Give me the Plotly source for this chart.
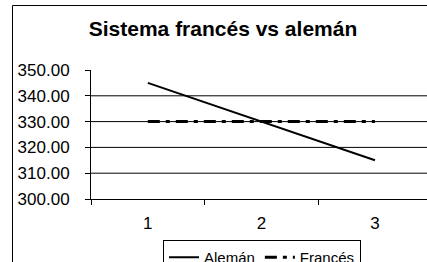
import plotly.graph_objects as go

categories = ["1", "2", "3"]
aleman = [345, 330, 315]
frances = [330, 330, 330]
y_ticks = [300, 310, 320, 330, 340, 350]
grid_vals = [310, 320, 330, 340]

W, H = 427, 262
L, R, T, B = 91, 0, 70, 63
pw, ph = W - L - R, H - T - B

def px_x(p):
    return (p - L) / pw

def px_y(p):
    return (H - B - p) / ph

fig = go.Figure()
fig.add_trace(go.Scatter(x=categories, y=aleman, mode="lines", name="Alemán",
                         line=dict(color="black", width=2)))
fig.add_trace(go.Scatter(x=categories, y=frances, mode="lines", name="Francés",
                         line=dict(color="black", width=3, dash="12px,6px,4px,6px")))

shapes = []
for g in grid_vals:
    shapes.append(dict(type="line", xref="paper", yref="y", x0=0, x1=1, y0=g, y1=g,
                       line=dict(color="black", width=1), layer="below"))
# outer chart frame (left and top edges visible in the crop)
shapes.append(dict(type="line", xref="paper", yref="paper",
                   x0=px_x(12.5), x1=px_x(12.5), y0=px_y(262), y1=px_y(5.5),
                   line=dict(color="black", width=1), layer="below"))
shapes.append(dict(type="line", xref="paper", yref="paper",
                   x0=px_x(12.5), x1=px_x(427), y0=px_y(5.5), y1=px_y(5.5),
                   line=dict(color="black", width=1), layer="below"))

fig.update_layout(
    width=W, height=H,
    margin=dict(l=L, r=R, t=T, b=B, autoexpand=False),
    paper_bgcolor="white", plot_bgcolor="white",
    font=dict(family="Liberation Sans, Arial, sans-serif", color="black", size=17),
    title=dict(text="<b>Sistema francés vs alemán</b>", x=px_x(223), xref="paper",
               y=1 - 29 / H, yref="container", xanchor="center", yanchor="middle",
               font=dict(size=21)),
    showlegend=True,
    legend=dict(orientation="h", x=px_x(262), y=px_y(240), xanchor="center", yanchor="top",
                bordercolor="black", borderwidth=1, bgcolor="white",
                font=dict(size=15), itemwidth=30, tracegroupgap=0),
    shapes=shapes,
    xaxis=dict(type="category", range=[-0.5, (427 - 148) / 113.5], tickson="boundaries",
               ticks="outside", ticklen=5, tickcolor="black", showline=True,
               linecolor="black", linewidth=1, showgrid=False, zeroline=False,
               ticklabelstandoff=9),
    yaxis=dict(range=[300, 350], tickvals=y_ticks, tickformat=".2f", ticks="outside",
               ticklen=5, tickcolor="black", showline=True, linecolor="black",
               linewidth=1, showgrid=False, zeroline=False, ticklabelstandoff=12),
)

fig.write_html("out.html", config={"displayModeBar": False},
               post_script="document.body.style.margin='0';"
                           "document.body.style.overflow='hidden';"
                           "document.documentElement.style.overflow='hidden';")
